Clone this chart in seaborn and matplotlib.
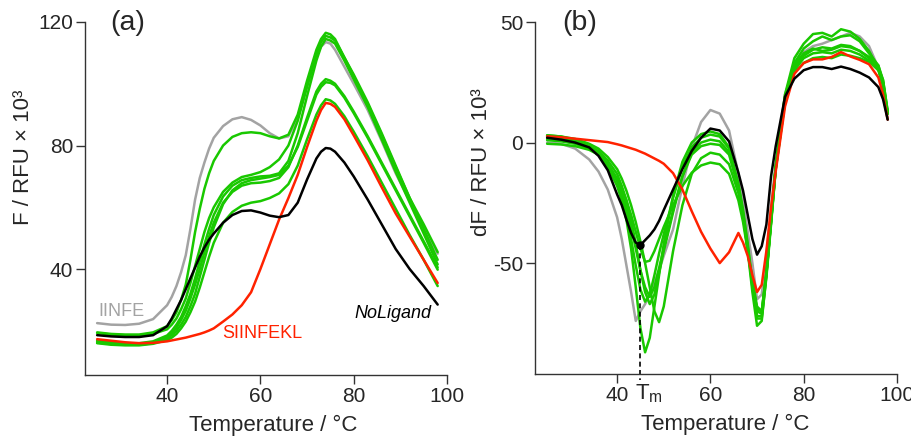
import matplotlib
matplotlib.use("Agg")
import matplotlib.pyplot as plt
import matplotlib.transforms as mtransforms
import seaborn as sns
import pandas as pd

# %% data, panel (a): fluorescence
Ta = [25, 28, 31, 34, 37,
      40, 41, 42, 43, 44, 45, 46, 47, 48, 49, 50,
      52, 54, 56, 58, 60, 62, 64, 66, 68, 70, 72,
      73, 74, 75, 76,
      78, 80, 83, 86, 89, 92, 95, 98]

a_gray = [22.5, 22.0, 21.9, 22.3, 23.8,
          28.3, 31, 34.5, 39, 44.5, 53, 62.5, 69.5, 74.5, 79, 82.5,
          86.3, 88.5, 89.2, 88.3, 86.5, 84, 82.3, 83, 89, 99, 109,
          112, 113.5, 113, 111,
          105.5, 100, 91.5, 81.5, 71, 62, 53.5, 45]
a_black = [18.6, 18.2, 18.0, 18.0, 18.6,
           21.5, 24, 27, 30, 33.5, 37, 40.5, 44, 47, 49.5, 51.5,
           55, 57.5, 58.8, 59, 58.3, 57.3, 56.8, 57.5, 61.5, 69, 75.8,
           78, 79.2, 79, 78,
           74.5, 70, 62.5, 54.5, 46.5, 40, 34.5, 28.5]
a_red = [17.3, 16.8, 16.3, 16.0, 16.1,
         16.6, 16.9, 17.2, 17.5, 17.8, 18.2, 18.6, 19, 19.5, 20.1, 20.8,
         23, 25.3, 28.3, 32.5, 40, 48, 56, 63, 70.5, 79.5, 88,
         91.5, 93.8, 93.5, 92.5,
         88.5, 83.3, 75.2, 66.5, 58, 50.5, 43, 35.5]
a_g1 = [19.5, 19.0, 18.8, 18.8, 19.5,
        21.5, 23.5, 26, 30, 35, 43, 52, 59.5, 66, 71, 75,
        80, 82.8, 84, 84.3, 84, 83, 82.3, 83.5, 90, 101, 111,
        114.5, 116.5, 116, 114.5,
        108.5, 102.5, 93.5, 83.5, 73, 63, 54.5, 45.5]
a_g2 = [19.3, 18.8, 18.6, 18.6, 19.0,
        20.5, 22, 24, 27, 30.5, 35.5, 41, 46.5, 52, 56.5, 60,
        65, 68, 69.8, 70.5, 71.4, 73, 75.5, 80, 88, 99, 109.5,
        113.5, 115.5, 115, 114,
        108.5, 103, 94, 84, 73.5, 63, 53, 43]
a_g3 = [16.8, 16.3, 16.0, 16.0, 16.6,
        18.5, 20, 22, 24.5, 28, 32, 37, 42.5, 48, 53, 57.5,
        63.5, 67, 68.8, 69.5, 70, 70.2, 71, 75, 84, 96, 107.5,
        112, 114.5, 114, 113,
        107.5, 101.5, 92.5, 82, 71.5, 61.5, 51.5, 41.5]
a_g4 = [16.5, 16.0, 15.8, 15.8, 16.3,
        18, 19.3, 21, 23.5, 26.5, 30.5, 35, 40, 45.5, 50.5, 55,
        61.5, 65, 67, 67.8, 68, 68.5, 69.5, 73, 80, 89, 97.5,
        100, 101.5, 101, 100,
        96, 91, 83, 74.5, 66, 57.5, 49, 40.5]
a_g5 = [16.2, 15.7, 15.5, 15.5, 16,
        17.5, 18.6, 20, 22, 24.5, 28, 32, 37.5, 43, 48.5, 53.5,
        61, 65.5, 67.8, 68.8, 69.3, 69.8, 70.5, 73.5, 79.5, 88, 96.5,
        99, 100.5, 100.3, 99.5,
        95.5, 90.5, 82.5, 74, 65.5, 57, 48.5, 39.8]
a_g6 = [16.0, 15.5, 15.3, 15.3, 15.8,
        17, 17.8, 19, 20.8, 23, 26, 29.5, 34, 39, 44, 48.5,
        55, 58.5, 60.5, 61.5, 62, 63, 64.5, 67.5, 73.5, 82, 90,
        93, 95, 94.6, 93.5,
        89.5, 84.5, 76.5, 68, 59.5, 51, 43, 34.5]

# %% data, panel (b): derivative
Tb = [25, 28, 31, 34, 36, 38,
      40, 41, 42, 43, 44, 45, 46, 47, 48, 49, 50,
      52, 54, 56, 58, 60, 62, 64, 66,
      67, 68, 69, 70, 71, 72, 73, 74,
      76, 78, 80, 82, 84, 86, 88, 90, 92, 94, 96,
      97, 98]

b_gray = [0, -0.5, -2.5, -7, -12, -19.5,
          -31, -40, -51, -62, -74, -70, -67, -63, -58, -53, -47,
          -36, -18, -2, 8.5, 13.5, 12, 5, -13,
          -24, -37, -50, -65, -63, -47, -27, -8,
          20, 32, 37.5, 40, 41, 42.5, 44, 45.5, 44, 40, 31,
          22, 10]
b_black = [2, 1.2, 0, -2, -5.5, -11.5,
           -21.5, -26, -32, -37.5, -41.5, -42.5, -40.5, -38.5, -36, -32.5, -28,
           -19.5, -11, -3.5, 2, 5.8, 5, 0.5, -12.5,
           -20, -30, -40, -46.5, -43, -34, -14, -1.5,
           19, 26.5, 30, 31.3, 31.3, 30.5, 31.5, 30.5, 29, 27, 23,
           18, 9.5]
b_red = [2.6, 2.2, 1.6, 1, 0.6, 0.2,
         -0.7, -1.2, -1.8, -2.4, -3, -3.8, -4.6, -5.6, -6.6, -7.6, -8.8,
         -12.7, -19.5, -28.5, -37, -44, -50, -45.5, -37.5,
         -41.5, -47, -55, -62, -59, -45, -27, -12,
         15, 28.5, 33, 34.5, 34.5, 35.5, 37.5, 35.7, 34.3, 32.5, 27,
         20, 9.5]
b_g1 = [1, 0.5, -0.5, -2.5, -5, -10,
        -18, -24, -32, -44, -60, -77, -87, -81, -68, -55, -42,
        -22, -8, 0, 3.5, 4.6, 3.5, -2, -18,
        -30, -45, -62, -76, -74, -55, -32, -10,
        20, 35, 41, 45, 45.5, 44, 47, 46, 43, 38, 31,
        24, 12]
b_g2 = [3, 2.5, 1, -1.5, -4, -9,
        -16, -22, -30, -40, -51, -61, -66, -63, -55, -46, -38,
        -23, -10, -2, 2, 3.3, 2.5, -2.5, -17,
        -28, -42, -58, -72, -72, -55, -33, -10,
        19, 33, 39, 42, 44, 42.5, 44, 44.5, 42, 37, 32,
        25, 12]
b_g3 = [2.5, 2, 0.8, -1.5, -3.5, -7.5,
        -13, -18, -24, -32, -42, -53, -62, -67, -63, -54, -45,
        -29, -14, -4, 0, 1.2, 0.5, -4, -18,
        -29, -43, -58, -70, -71, -54, -32, -10,
        18, 31, 36, 38.5, 39.5, 39, 40.5, 40, 38, 35, 30,
        24, 12]
b_g4 = [3, 2.5, 1.5, -0.5, -2.5, -6,
        -11, -15, -20, -26, -33, -41, -50, -60, -70, -74.5, -68,
        -45, -26, -13, -6.5, -4.2, -5, -9, -21,
        -31, -44, -57, -68, -70, -54, -33, -11,
        17, 30, 35, 37, 37.5, 37, 38.5, 38, 36.5, 34, 31,
        26, 13]
b_g5 = [-0.5, -0.8, -1.5, -3, -5, -9,
        -15, -19, -24, -30, -37, -44, -49.5, -49, -45, -40, -35,
        -26, -18, -12.5, -9.5, -8.3, -9, -13, -24,
        -33, -45, -58, -69, -70, -54, -33, -11,
        17, 29, 33, 35, 35.5, 35, 36.5, 36, 35, 33.5, 30,
        25, 12]
b_g6 = [1.5, 1, 0, -2, -4.5, -9,
        -15, -20, -27, -35, -44, -53, -60, -64, -60, -52, -44,
        -28, -14, -5, -1.5, -0.5, -1, -5, -19,
        -30, -44, -60, -73, -73, -56, -34, -11,
        18, 32, 37, 39, 38, 38.5, 40, 39.5, 38, 35.5, 32,
        26, 13]

Tm_x, Tm_y = 44.9, -42.7

GREEN = "#19c800"
GRAY = "#a3a3a3"
RED = "#ff2200"
order = ["gray", "g1", "g2", "g3", "g4", "g5", "g6", "red", "black"]
palette = {"gray": GRAY, "red": RED, "black": "black"}
palette.update({g: GREEN for g in order[1:7]})


def long_df(T, curves):
    rows = []
    for name, vals in curves.items():
        for t, v in zip(T, vals):
            rows.append((name, t, v))
    return pd.DataFrame(rows, columns=["curve", "T", "val"])


dfa = long_df(Ta, {"gray": a_gray, "g1": a_g1, "g2": a_g2, "g3": a_g3, "g4": a_g4,
                   "g5": a_g5, "g6": a_g6, "red": a_red, "black": a_black})
dfb = long_df(Tb, {"gray": b_gray, "g1": b_g1, "g2": b_g2, "g3": b_g3, "g4": b_g4,
                   "g5": b_g5, "g6": b_g6, "red": b_red, "black": b_black})

sns.set_style("ticks")
plt.rcParams['font.family'] = ['Liberation Sans', 'DejaVu Sans']
plt.rcParams['axes.unicode_minus'] = False
plt.rcParams['mathtext.fontset'] = 'custom'
plt.rcParams['mathtext.rm'] = 'Liberation Sans'

fig = plt.figure(figsize=(9.12, 4.4), dpi=100)
axA = fig.add_axes([85 / 912, 65 / 440, 362 / 912, 353 / 440])
axB = fig.add_axes([535 / 912, 66 / 440, 362 / 912, 352 / 440])

for ax, df in [(axA, dfa), (axB, dfb)]:
    sns.lineplot(data=df, x="T", y="val", hue="curve", hue_order=order, palette=palette,
                 estimator=None, legend=False, lw=1.8, solid_joinstyle="round", ax=ax)
    sns.despine(ax=ax)
    for s in ["left", "bottom"]:
        ax.spines[s].set_color("#333333")
        ax.spines[s].set_linewidth(1.0)
    ax.tick_params(direction="out", length=6.5, width=1.0, color="#333333",
                   labelsize=15, pad=2)
    ax.set_xlim(22.4, 100)
    ax.set_xticks([40, 60, 80, 100])
    ax.set_xlabel("Temperature / °C", fontsize=16)

# panel (a)
axA.set_ylim(5.7, 120)
axA.set_yticks([40, 80, 120])
axA.set_ylabel("F / RFU × 10³", fontsize=16)
axA.yaxis.set_label_coords(-0.14, 0.617)
axA.xaxis.set_label_coords(0.52, -0.112)
axA.text(0.119, 0.997, "(a)", transform=axA.transAxes, ha="center", va="center", fontsize=20.5)
axA.text(30.3, 26.1, "IINFE", color=GRAY, ha="center", va="center", fontsize=13)
axA.text(60.4, 19.0, "SIINFEKL", color=RED, ha="center", va="center", fontsize=13)
axA.text(88.4, 25.7, "NoLigand", color="black", style="italic", ha="center", va="center",
         fontsize=13)

# panel (b)
axB.set_ylim(-96, 50)
axB.set_yticks([-50, 0, 50])
axB.set_ylabel("dF / RFU × 10³", fontsize=16)
axB.yaxis.set_label_coords(-0.119, 0.602)
axB.xaxis.set_label_coords(0.525, -0.112)
axB.text(0.124, 0.997, "(b)", transform=axB.transAxes, ha="center", va="center", fontsize=20.5)
axB.plot([Tm_x, Tm_x], [Tm_y, -98.5], ls=(0, (3, 2)), color="black", lw=1.2, clip_on=False)
axB.plot([Tm_x], [Tm_y], "o", ms=5, color="black")
trans = mtransforms.blended_transform_factory(axB.transData, axB.transAxes)
axB.text(Tm_x - 1.1, -0.025, r"T$_{\mathrm{m}}$", transform=trans, ha="left", va="top",
         fontsize=16)

fig.savefig("out.png", dpi=100)
